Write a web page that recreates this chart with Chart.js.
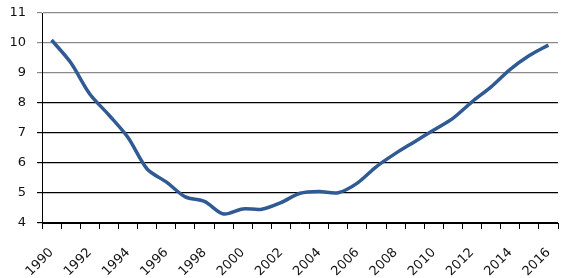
<!DOCTYPE html>
<html>
<head>
<meta charset="utf-8">
<script src="https://cdn.jsdelivr.net/npm/chart.js@4/dist/chart.umd.min.js"></script>
<style>
html,body{margin:0;padding:0;background:#fff;}
#wrap{width:573px;height:278px;position:relative;}
</style>
</head>
<body>
<div id="wrap"><canvas id="c" width="573" height="278"></canvas></div>
<script>
const years = ["1990","1991","1992","1993","1994","1995","1996","1997","1998","1999","2000","2001","2002","2003","2004","2005","2006","2007","2008","2009","2010","2011","2012","2013","2014","2015","2016"];
const values = [10.1,9.35,8.3,7.6,6.85,5.8,5.37,4.87,4.72,4.3,4.47,4.46,4.68,4.99,5.05,5.01,5.33,5.88,6.32,6.71,7.1,7.49,8.04,8.54,9.12,9.58,9.93];
const yMin = 4, yMax = 11, yStep = 1;

new Chart(document.getElementById('c'), {
  type: 'line',
  data: {
    labels: years,
    datasets: [{
      data: values,
      borderColor: '#2F5A94',
      borderWidth: 3.5,
      pointRadius: 0,
      tension: 0.3,
      fill: false
    }]
  },
  options: {
    responsive: false,
    animation: false,
    layout: { padding: { top: 13, right: 15, left: 0, bottom: 0 } },
    plugins: { legend: { display: false }, tooltip: { enabled: false } },
    scales: {
      x: {
        offset: true,
        grid: { offset: true, drawOnChartArea: false, drawTicks: true, tickLength: 6, color: '#000', lineWidth: 1 },
        border: { display: true, color: '#000', width: 1 },
        ticks: {
          autoSkip: false,
          maxRotation: 45, minRotation: 45,
          padding: 16,
          color: '#111',
          font: { family: 'DejaVu Sans', size: 13 },
          callback: function(v, i) { return i % 2 === 0 ? years[i] : ''; }
        },
        afterFit: function(s) { s.height = 55; s.paddingLeft = 0; s.paddingRight = 0; }
      },
      y: {
        min: yMin, max: yMax,
        grid: {
          drawTicks: true, tickLength: 5, lineWidth: 1.2,
          color: function(ctx) { return (ctx.tick && ctx.tick.value >= 9) ? '#8a8a8a' : '#000'; }
        },
        border: { display: true, color: '#000', width: 1 },
        ticks: {
          stepSize: yStep,
          padding: 11,
          color: '#111',
          font: { family: 'DejaVu Sans', size: 13 }
        },
        afterFit: function(s) { s.width = 42; s.paddingTop = 0; s.paddingBottom = 0; }
      }
    }
  }
});
</script>
</body>
</html>
